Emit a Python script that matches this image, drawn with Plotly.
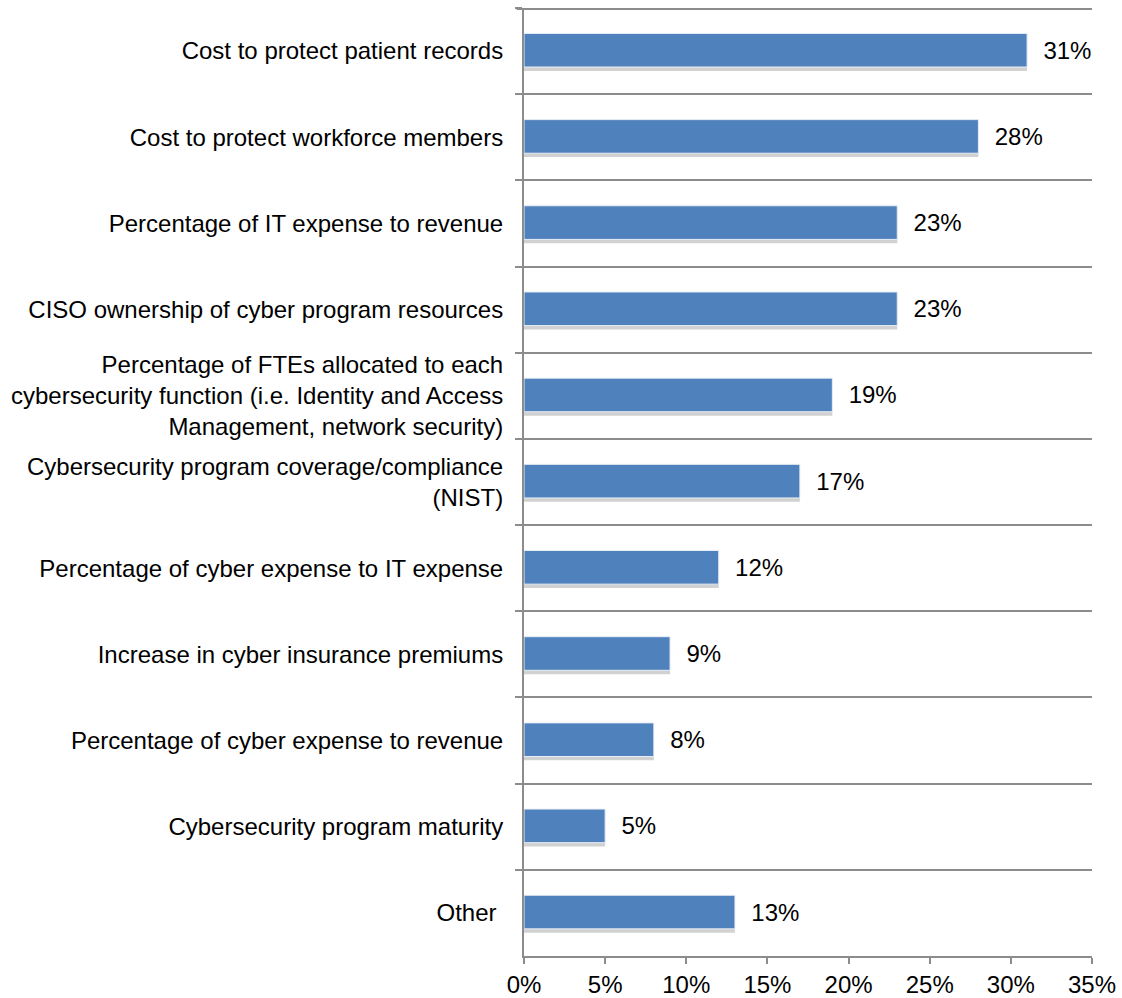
import plotly.graph_objects as go

categories = [
    "Cost to protect patient records",
    "Cost to protect workforce members",
    "Percentage of IT expense to revenue",
    "CISO ownership of cyber program resources",
    "Percentage of FTEs allocated to each<br>cybersecurity function (i.e. Identity and Access<br>Management, network security)",
    "Cybersecurity program coverage/compliance<br>(NIST)",
    "Percentage of cyber expense to IT expense",
    "Increase in cyber insurance premiums",
    "Percentage of cyber expense to revenue",
    "Cybersecurity program maturity",
    "Other\u00a0",
]
values = [0.31, 0.28, 0.23, 0.23, 0.19, 0.17, 0.12, 0.09, 0.08, 0.05, 0.13]
x_ticks = [0, 0.05, 0.10, 0.15, 0.20, 0.25, 0.30, 0.35]
x_tick_labels = ["0%", "5%", "10%", "15%", "20%", "25%", "30%", "35%"]

labels = ["  " + f"{v:.0%}" for v in values]

FONT = "Liberation Sans, Arial, Helvetica"
GRID = "#8C8C8C"

fig = go.Figure()

# soft drop shadow under each bar
fig.add_trace(go.Bar(
    y=categories, x=values, orientation="h",
    marker=dict(color="rgba(0,0,0,0.18)", line=dict(width=0)),
    width=0.40, offset=-0.17,
    hoverinfo="skip", showlegend=False,
))

fig.add_trace(go.Bar(
    y=categories, x=values, orientation="h",
    marker=dict(color="#4F81BD", line=dict(color="#E8EEF6", width=1)),
    width=0.39, offset=-0.205,
    text=labels, textposition="outside", cliponaxis=False,
    textfont=dict(family=FONT, size=24, color="#000000"),
    showlegend=False,
))

# top border line of the grid, with its outside tick
fig.add_shape(
    type="line", xref="paper", yref="paper",
    x0=-0.013, x1=1, y0=0.999, y1=0.999,
    line=dict(color=GRID, width=2), layer="above",
)

fig.update_layout(
    width=1122, height=998,
    margin=dict(l=524, r=30, t=8, b=42, autoexpand=False),
    paper_bgcolor="white", plot_bgcolor="white",
    barmode="overlay",
    font=dict(family=FONT, size=24, color="#000000"),
)

fig.update_xaxes(
    range=[0, 0.35], tickvals=x_ticks, ticktext=x_tick_labels,
    showgrid=False, zeroline=False, automargin=False,
    showline=True, linecolor=GRID, linewidth=2,
    ticks="outside", ticklen=6, tickwidth=2, tickcolor=GRID,
    tickfont=dict(family=FONT, size=24, color="#000000"),
)

fig.update_yaxes(
    autorange="reversed", tickson="boundaries", automargin=False,
    showgrid=True, gridcolor=GRID, gridwidth=2,
    showline=True, linecolor=GRID, linewidth=2,
    ticks="outside", ticklen=7, tickwidth=2, tickcolor=GRID,
    ticklabelstandoff=14,
    tickfont=dict(family=FONT, size=24, color="#000000"),
)

fig.write_html("out.html")
